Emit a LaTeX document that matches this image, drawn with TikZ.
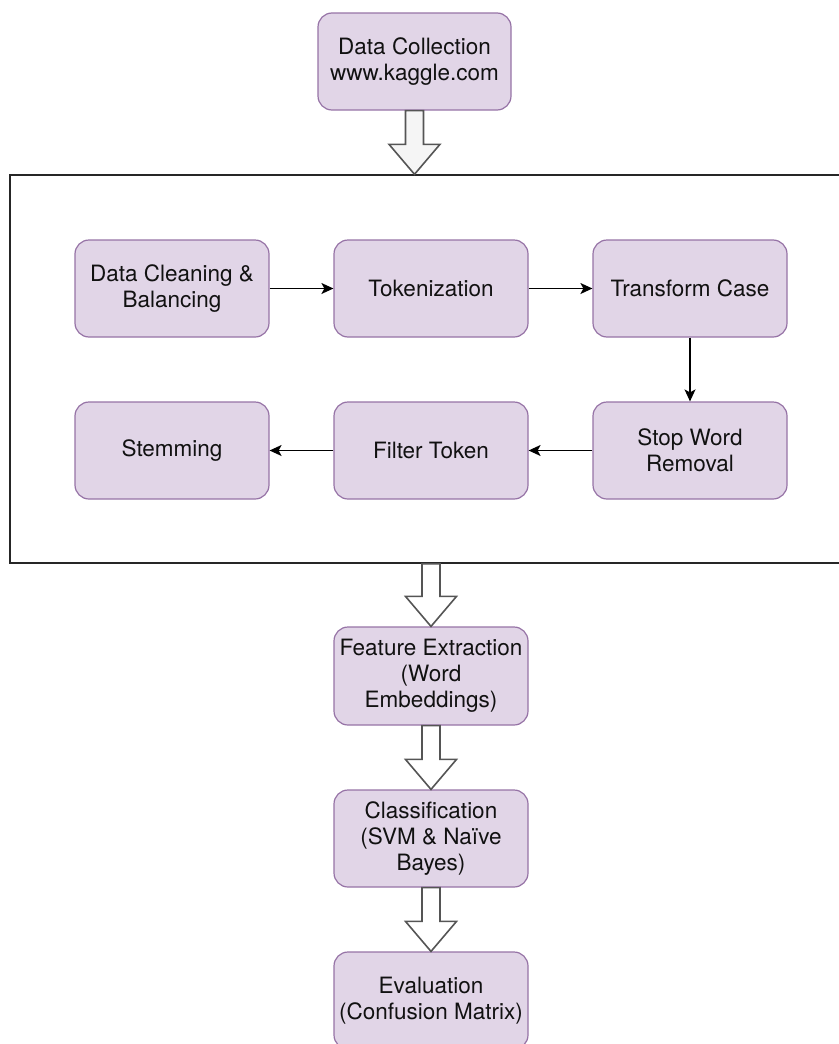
\documentclass[tikz,border=0pt]{standalone}
\usepackage{fontspec}
\setmainfont{TeX Gyre Heros}
\usetikzlibrary{arrows.meta,calc}
\definecolor{boxfill}{HTML}{E1D5E7}
\definecolor{boxline}{HTML}{9673A6}
\definecolor{txt}{HTML}{111111}
\definecolor{hollowline}{HTML}{555555}
\definecolor{lightgrayfill}{HTML}{F5F5F5}
\tikzset{
  procbox/.style={draw=boxline, fill=boxfill, line width=1.2pt, rounded corners=14pt,
    minimum width=194pt, minimum height=97pt, inner sep=0pt, align=center,
    text=txt, font=\fontsize{22.5}{26}\selectfont},
  flow/.style={draw=black, line width=1.3pt, -{Stealth[length=12pt,width=11pt,inset=3pt]}},
  hollow/.style={draw=hollowline, line width=1.6pt, fill=white, line join=miter},
  container/.style={draw=black!85, line width=1.4pt, minimum width=830pt, minimum height=388pt, inner sep=0pt}
}
\newcommand{\hollowarrow}[3][white]{%
  \path[hollow, fill=#1] let \p1=(#2), \p2=(#3) in
    (\x1-9pt,\y1) -- (\x1+9pt,\y1) -- (\x1+9pt,\y2+30pt) -- (\x1+25.5pt,\y2+30pt)
    -- (\x1,\y2) -- (\x1-25.5pt,\y2+30pt) -- (\x1-9pt,\y2+30pt) -- cycle;}
\begin{document}
\begin{tikzpicture}[x=1pt,y=-1pt]
\useasboundingbox (0,0) rectangle (838,1044);
\node[container] (frame) at (425,369) {};
\node[procbox, minimum width=193pt] (dc) at (414.5,61.5) {Data Collection\\www.kaggle.com};
\node[procbox] (clean) at (172,288.5) {Data Cleaning \&\\Balancing};
\node[procbox] (tok) at (431,288.5) {Tokenization};
\node[procbox] (tc) at (690,288.5) {Transform Case};
\node[procbox] (stop) at (690,450.5) {Stop Word\\Removal};
\node[procbox] (filt) at (431,450.5) {Filter Token};
\node[procbox] (stem) at (172,450.5) {Stemming};
\node[procbox, minimum height=98pt] (fe) at (431,676) {Feature Extraction\\(Word\\Embeddings)};
\node[procbox] (cls) at (431,838.5) {Classification\\(SVM \& Naïve\\Bayes)};
\node[procbox] (ev) at (431,1000.5) {Evaluation\\(Confusion Matrix)};
\coordinate (ftop) at (frame.north -| dc.south);
\coordinate (fbot) at (frame.south -| fe.north);
\hollowarrow[lightgrayfill]{dc.south}{ftop}
\hollowarrow{fbot}{fe.north}
\hollowarrow{fe.south}{cls.north}
\hollowarrow{cls.south}{ev.north}
\draw[flow] (clean) -- (tok);
\draw[flow] (tok) -- (tc);
\draw[flow] (tc) -- (stop);
\draw[flow] (stop) -- (filt);
\draw[flow] (filt) -- (stem);
\end{tikzpicture}
\end{document}
